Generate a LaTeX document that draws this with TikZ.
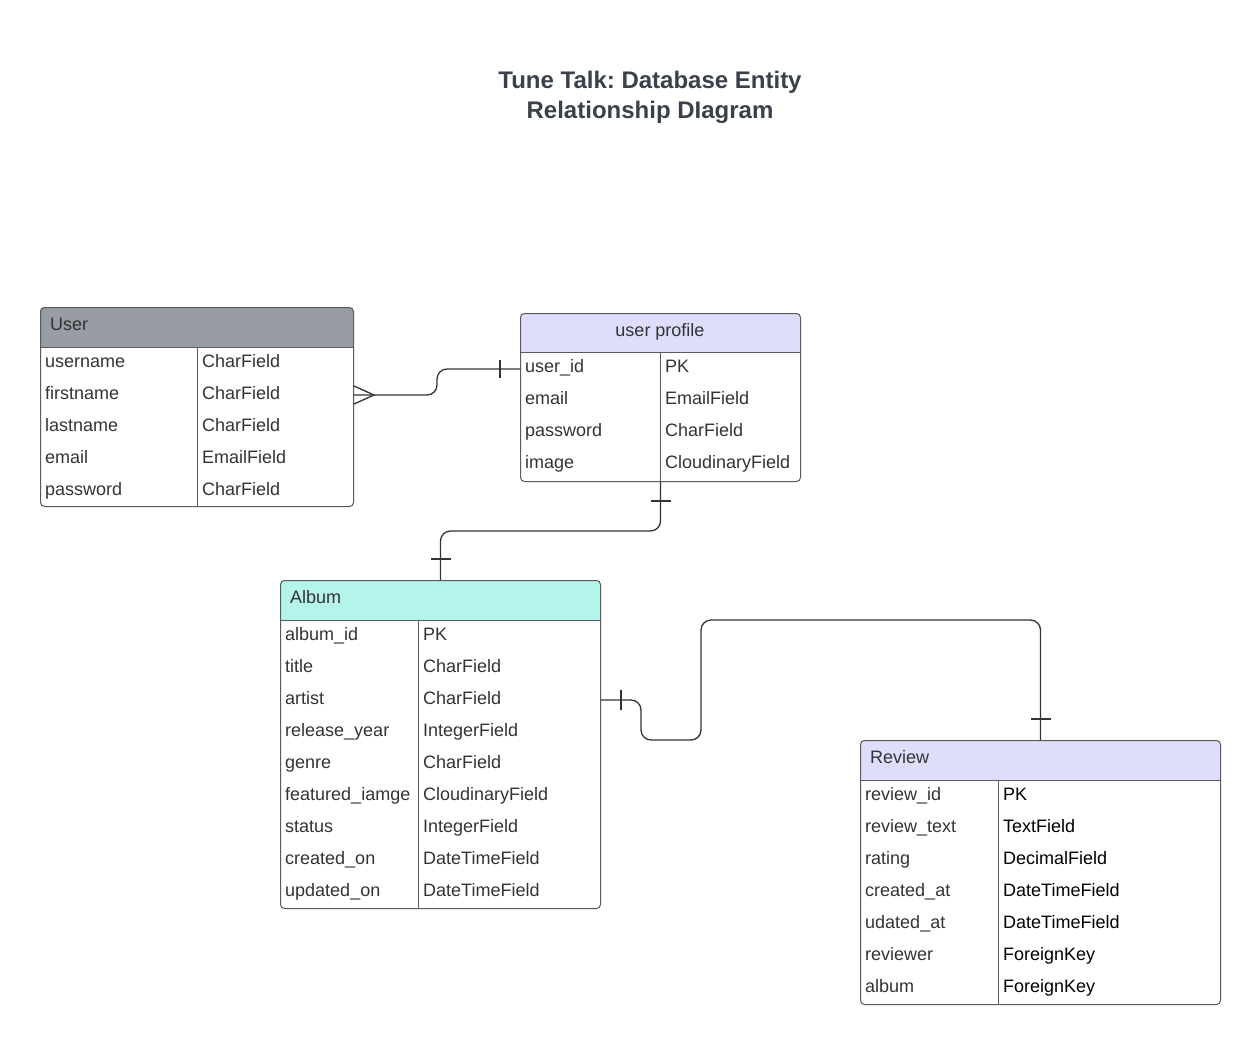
\documentclass[tikz,border=0pt]{standalone}
\usepackage{fontspec}
\setmainfont{Liberation Sans}
\frenchspacing
\usetikzlibrary{calc}
\definecolor{bordercol}{HTML}{5A5A5A}
\definecolor{conncol}{HTML}{333333}
\definecolor{txtcol}{HTML}{333333}
\definecolor{titlecol}{HTML}{3A414A}
\definecolor{hdrgray}{HTML}{979CA5}
\definecolor{hdrlav}{HTML}{DEDEFC}
\definecolor{hdrmint}{HTML}{B5F4EA}
\tikzset{
  tbl/.style={draw=bordercol, line width=1pt, rounded corners=4pt, inner sep=0pt, anchor=north west},
  sep/.style={draw=bordercol, line width=1pt},
  cell/.style={anchor=west, inner sep=0pt, text height=11pt, text depth=4pt, font=\fontsize{18}{20}\selectfont, text=txtcol},
  conn/.style={draw=conncol, line width=1.3pt, rounded corners=10pt},
  bar/.style={draw=conncol, line width=1.3pt},
  title/.style={font=\fontsize{24}{30}\selectfont\bfseries, text=titlecol, align=center, inner sep=0pt}
}
\begin{document}
\begin{tikzpicture}[x=1pt,y=-1pt]
\useasboundingbox (0,0) rectangle (1260,1044);

% title
\node[title] (title) at (650,97) {Tune Talk: Database Entity\\Relationship DIagram};

% ---------- User ----------
\fill[hdrgray] (40,347) [rounded corners=4pt] -- (40,307) -- (353,307) [sharp corners] -- (353,347) -- cycle;
\node[tbl, minimum width=313pt, minimum height=199pt] (user) at (40,307) {};
\draw[sep] (40,347) -- (353,347);
\draw[sep] (197,347) -- (197,506);
\node[cell] (userh) at (50,327) {User};
\foreach \n/\t [count=\i] in {username/CharField, firstname/CharField, lastname/CharField, email/EmailField, password/CharField}{
  \node[cell] (u-\i-a) at (45,{347+32*(\i-1)+17}) {\n};
  \node[cell] (u-\i-b) at (202,{347+32*(\i-1)+17}) {\t};
}

% ---------- user profile ----------
\fill[hdrlav] (520,352) [rounded corners=4pt] -- (520,313) -- (800,313) [sharp corners] -- (800,352) -- cycle;
\node[tbl, minimum width=280pt, minimum height=168pt] (up) at (520,313) {};
\draw[sep] (520,352) -- (800,352);
\draw[sep] (660,352) -- (660,481);
\node[cell, anchor=center] (uph) at (660,333) {user profile};
\foreach \n/\t [count=\i] in {user\_id/PK, email/EmailField, password/CharField, image/CloudinaryField}{
  \node[cell] (p-\i-a) at (525,{352+32*(\i-1)+17}) {\n};
  \node[cell] (p-\i-b) at (665,{352+32*(\i-1)+17}) {\t};
}

% ---------- Album ----------
\fill[hdrmint] (280,620) [rounded corners=4pt] -- (280,580) -- (600,580) [sharp corners] -- (600,620) -- cycle;
\node[tbl, minimum width=320pt, minimum height=328pt] (album) at (280,580) {};
\draw[sep] (280,620) -- (600,620);
\draw[sep] (418,620) -- (418,908);
\node[cell] (albumh) at (290,600) {Album};
\foreach \n/\t [count=\i] in {album\_id/PK, title/CharField, artist/CharField, release\_year/IntegerField, genre/CharField, featured\_iamge/CloudinaryField, status/IntegerField, created\_on/DateTimeField, updated\_on/DateTimeField}{
  \node[cell] (a-\i-a) at (285,{620+32*(\i-1)+17}) {\n};
  \node[cell] (a-\i-b) at (423,{620+32*(\i-1)+17}) {\t};
}

% ---------- Review ----------
\fill[hdrlav] (860,780) [rounded corners=4pt] -- (860,740) -- (1220,740) [sharp corners] -- (1220,780) -- cycle;
\node[tbl, minimum width=360pt, minimum height=264pt] (review) at (860,740) {};
\draw[sep] (860,780) -- (1220,780);
\draw[sep] (998,780) -- (998,1004);
\node[cell] (reviewh) at (870,760) {Review};
\foreach \n/\t [count=\i] in {review\_id/PK, review\_text/TextField, rating/DecimalField, created\_at/DateTimeField, udated\_at/DateTimeField, reviewer/ForeignKey, album/ForeignKey}{
  \node[cell] (r-\i-a) at (865,{780+32*(\i-1)+17}) {\n};
  \node[cell, text=black] (r-\i-b) at (1003,{780+32*(\i-1)+17}) {\t};
}

% ---------- connectors ----------
% User -- user profile (many to one)
\coordinate (c1s) at ($(user.east |- u-2-a)+(0,-1)$);
\coordinate (c1e) at (up.west |- p-1-a);
\draw[conn] (c1s) -- ($(c1s)+(83,0)$) |- (c1e);
\draw[bar] ($(c1s)+(0,-9)$) -- ($(c1s)+(20,0)$) -- ($(c1s)+(0,9)$);
\draw[bar] ($(c1e)+(-20,-9)$) -- ($(c1e)+(-20,9)$);

% user profile -- Album
\draw[conn] (up.south) -- ($(up.south)+(0,49)$) -| (album.north);
\draw[bar] ($(up.south)+(-10,19)$) -- ($(up.south)+(10,19)$);
\draw[bar] ($(album.north)+(-10,-21)$) -- ($(album.north)+(10,-21)$);

% Album -- Review
\coordinate (c3s) at ($(album.east |- a-3-a)+(0,-1)$);
\draw[conn] (c3s) -- ($(c3s)+(40,0)$) -- ($(c3s)+(40,40)$) -- ($(c3s)+(100,40)$) -- ($(c3s)+(100,-80)$) -| (review.north);
\draw[bar] ($(c3s)+(20,-10)$) -- ($(c3s)+(20,10)$);
\draw[bar] ($(review.north)+(-10,-21)$) -- ($(review.north)+(10,-21)$);
\end{tikzpicture}
\end{document}
